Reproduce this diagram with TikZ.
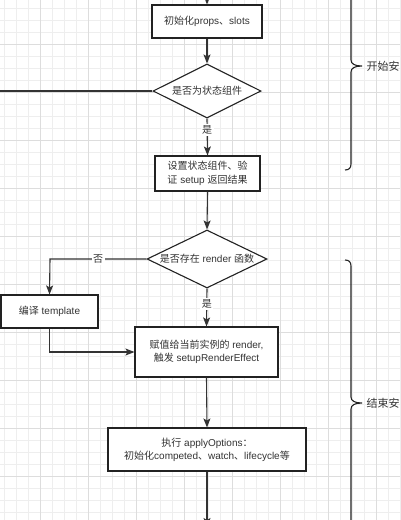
\documentclass[tikz,border=0pt]{standalone}
\usepackage{fontspec}
\setmainfont{Liberation Sans}
\newfontfamily\cjk{Noto Sans CJK SC}
\usetikzlibrary{shapes.geometric,arrows.meta}
\newcommand\zh[1]{{\cjk #1}}
\definecolor{gminor}{HTML}{EEEEEE}
\definecolor{gmajor}{HTML}{DDDDDD}
\definecolor{ink}{HTML}{333333}
\definecolor{edge}{HTML}{222222}
\begin{document}
\begin{tikzpicture}[x=1pt,y=-1pt,
  box/.style={draw=edge,line width=1.1pt,fill=white,rectangle,inner sep=0pt,
    align=center,text=ink,font=\fontsize{10}{13}\selectfont},
  dia/.style={draw=edge,line width=1.1pt,fill=white,diamond,inner sep=0pt},
  dtext/.style={text=ink,font=\fontsize{10}{13}\selectfont,inner sep=0pt},
  conn/.style={draw=ink,line width=1.1pt},
  arr/.style={conn,-{Stealth[length=9pt,width=7pt,inset=2pt]}},
  lab/.style={fill=white,text=ink,font=\fontsize{10}{12}\selectfont,inner sep=1.5pt},
  brace/.style={draw=edge,line width=1.1pt},
  blab/.style={text=ink,font=\fontsize{11}{13}\selectfont,anchor=west,inner sep=0pt}]
\useasboundingbox (0,0) rectangle (400,520);
\fill[white] (0,0) rectangle (400,520);
% grid
\foreach \x in {4,16,...,400} \draw[gminor,line width=0.6pt] (\x,0) -- (\x,520);
\foreach \y in {8,20,...,520} \draw[gminor,line width=0.6pt] (0,\y) -- (400,\y);
\foreach \x in {40,88,...,400} \draw[gmajor,line width=0.6pt] (\x,0) -- (\x,520);
\foreach \y in {44,92,...,520} \draw[gmajor,line width=0.6pt] (0,\y) -- (400,\y);

% nodes
\node[box,minimum width=110pt,minimum height=33pt] (b1) at (207,21.5) {\zh{初始化}props\zh{、}slots};
\node[dia,minimum width=108pt,minimum height=54pt] (d1) at (207,91) {};
\node[dtext] (d1t) at (d1.center) {\zh{是否为状态组件}};
\node[box,minimum width=105pt,minimum height=35pt,font=\fontsize{10}{14.5}\selectfont] (b2) at (207.5,173.5) {\zh{设置状态组件、验}\\\zh{证} setup \zh{返回结果}};
\node[dia,minimum width=120pt,minimum height=58pt] (d2) at (207,259) {};
\node[dtext] (d2t) at (d2.center) {\zh{是否存在} render \zh{函数}};
\node[box,minimum width=97pt,minimum height=33pt] (b3) at (49.5,311.5) {\zh{编译} template};
\node[box,minimum width=143pt,minimum height=50pt] (b4) at (206.5,352) {\zh{赋值给当前实例的} render,\\\zh{触发} setupRenderEffect};
\node[box,minimum width=198pt,minimum height=43pt] (b5) at (207,449.5) {\zh{执行} applyOptions\zh{：}\\\zh{初始化}competed\zh{、}watch\zh{、}lifecycle\zh{等}};

\coordinate (top) at (207,-12);
\coordinate (left) at (-6,91);
\coordinate (bot) at (207,527);
\coordinate (k1) at (50,259);

% connectors
\draw[arr] (top) -- (b1.north);
\draw[arr] (b1.south) -- (d1.north);
\draw[conn] (d1.west) -- (left);
\draw[arr] (d1.south) -- node[lab,pos=0.3] {\zh{是}} (b2.north);
\draw[arr] (b2.south) -- (d2.north);
\draw[arr] (d2.west) -- node[lab,pos=0.5] {\zh{否}} (k1) -- (b3.north);
\draw[arr] (d2.south) -- node[lab,pos=0.4] {\zh{是}} (b4.north);
\draw[arr] (b3.south) |- (b4.west);
\draw[arr] (b4.south) -- (b5.north);
\draw[arr] (b5.south) -- (bot);

% braces
\draw[brace] (345,-38) .. controls (349,-38) and (351,-36) .. (351,-32) -- (351,60)
  .. controls (351,64) and (355,66) .. (362,66)
  .. controls (355,66) and (351,68) .. (351,72) -- (351,164)
  .. controls (351,168) and (349,170) .. (345,170);
\node[blab] (l1) at (366.5,66) {\zh{开始安}};
\draw[brace] (345,260) .. controls (349,260) and (351,262) .. (351,266) -- (351,397)
  .. controls (351,401) and (355,403) .. (362,403)
  .. controls (355,403) and (351,405) .. (351,409) -- (351,540)
  .. controls (351,544) and (349,546) .. (345,546);
\node[blab] (l2) at (366.5,403) {\zh{结束安}};
\end{tikzpicture}
\end{document}
